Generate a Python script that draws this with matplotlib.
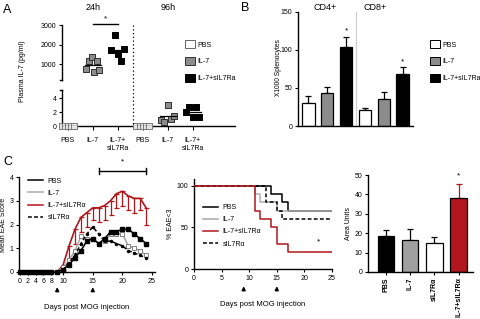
import numpy as np
import matplotlib.pyplot as plt
from matplotlib.patches import Patch
from matplotlib.lines import Line2D

plt.rcParams['font.family'] = ['Liberation Sans', 'DejaVu Sans']
plt.rcParams['axes.linewidth'] = 1.0
plt.rcParams['xtick.major.width'] = 0.8
plt.rcParams['ytick.major.width'] = 0.8
plt.rcParams['xtick.labelsize'] = 5
plt.rcParams['ytick.labelsize'] = 5

W, H = 481, 319
fig = plt.figure(figsize=(W / 100, H / 100), dpi=100)


def box(l, t, r, b):
    # pixel box -> figure fraction
    return [l / W, 1 - b / H, (r - l) / W, (b - t) / H]


# ---------------- data ----------------
# panel A: plasma IL-7 (pg/ml), 24h and 96h
a_labels = ['PBS', 'IL-7', 'IL-7+\nsIL7Ra', 'PBS', 'IL-7', 'IL-7+\nsIL7Ra']
a_pbs_24 = [0, 0, 0, 0, 0]
a_il7_24 = [750, 1160, 1370, 630, 1160, 700]
a_combo_24 = [1720, 2510, 1540, 1190, 1770]
a_pbs_96 = [0, 0, 0, 0, 0]
a_il7_96 = [0.8, 0.65, 3.1, 1.0, 1.4]
a_combo_96 = [2.0, 2.8, 1.3, 2.8, 1.3]
a_groups = [a_pbs_24, a_il7_24, a_combo_24, a_pbs_96, a_il7_96, a_combo_96]

# panel B: splenocytes x1000
b_cells = ['CD4+', 'CD8+']
b_pbs = [30, 21]
b_pbs_err = [10, 3]
b_il7 = [44, 35]
b_il7_err = [7, 10]
b_combo = [104, 68]
b_combo_err = [13, 9]

# panel C left: mean EAE score by day
days = np.arange(0, 25)
zeros10 = [0] * 10
eae_pbs = zeros10 + [0.1, 0.3, 0.6, 0.9, 1.3, 1.4, 1.2, 1.4, 1.7, 1.7, 1.8, 1.8, 1.6, 1.4, 1.2]
eae_il7 = zeros10 + [0.2, 0.5, 0.9, 1.5, 1.4, 1.4, 1.2, 1.3, 1.6, 1.6, 1.6, 1.1, 1.0, 0.9, 0.7]
eae_combo = zeros10 + [0.3, 1.1, 1.8, 2.3, 2.5, 2.7, 2.7, 2.8, 3.0, 3.3, 3.4, 3.2, 3.1, 3.1, 2.7]
eae_combo_err = zeros10 + [0.2, 0.6, 0.6, 0.6, 0.6, 0.5, 0.6, 0.6, 0.6, 0.6, 0.6, 0.6, 0.6, 0.5, 0.7]
eae_sil = zeros10 + [0.1, 0.4, 0.7, 1.2, 1.6, 1.9, 1.6, 1.3, 1.3, 1.2, 1.1, 0.9, 0.8, 0.7, 0.6]

# panel C middle: % EAE<3 (step curves)
km_pbs_t, km_pbs = [0, 14, 16, 17, 25], [100, 90, 80, 70, 70]
km_il7_t, km_il7 = [0, 11, 12, 15, 25], [100, 90, 80, 70, 70]
km_sil_t, km_sil = [0, 13, 15, 16, 25], [100, 80, 70, 60, 60]
km_combo_t, km_combo = [0, 11, 12, 14, 15, 17, 25], [100, 70, 60, 50, 30, 20, 20]

# panel C right: area units
c_groups = ['PBS', 'IL-7', 'sIL7R\u03b1', 'IL-7+sIL7R\u03b1']
c_vals = [18.5, 16.5, 15, 38]
c_err = [3, 5.5, 3, 7.5]

RED = '#b0161c'
GREY = '#8c8c8c'
LIGHT = '#e6e6e6'
a_face = [LIGHT, GREY, 'black'] * 2
a_edge = ['#7a7a7a', '#303030', 'black'] * 2


def style(ax):
    for s in ['top', 'right']:
        ax.spines[s].set_visible(False)
    ax.tick_params(length=2.5, pad=1.5)


# ---------------- panel A ----------------
axu = fig.add_axes(box(62, 25, 235, 80))
axl = fig.add_axes(box(62, 90, 235, 126))
for ax in (axu, axl):
    style(ax)
    ax.set_xlim(-0.24, 6.7)
    ax.patch.set_alpha(0)
axu.spines['bottom'].set_visible(False)
axu.set_xticks([])
axu.set_ylim(200, 3000)
axu.set_yticks([1000, 2000, 3000])
axl.set_ylim(0, 5.2)
axl.set_yticks([0, 2, 4])
axl.set_xticks(range(6))
axl.set_xticklabels(a_labels, fontsize=5, va='top')
axl.tick_params(axis='x', length=3, pad=5)
for ax, yb in ((axu, 0), (axl, 1)):
    ax.plot([-0.012, 0], [yb, yb], transform=ax.transAxes, color='black', lw=1, clip_on=False)

for i, vals in enumerate(a_groups):
    vals = np.array(vals, dtype=float)
    xs = i + np.linspace(-0.26, 0.26, len(vals))
    big = vals > 100
    for ax, m in ((axu, big), (axl, ~big)):
        if m.any():
            ax.scatter(xs[m], vals[m], marker='s', s=16, c=a_face[i], edgecolors=a_edge[i],
                       linewidths=0.7, clip_on=False, zorder=3)
    mean = vals.mean()
    ax = axu if mean > 100 else axl
    ax.plot([i - 0.32, i + 0.32], [mean, mean], color='black', lw=0.9, zorder=4)

axu.plot([1, 2], [3050, 3050], color='black', lw=1, clip_on=False)
axu.text(1.5, 3120, '*', ha='center', va='bottom', fontsize=6)
fig.add_artist(Line2D([133 / W, 133 / W], [1 - 25 / H, 1 - 126 / H], ls=(0, (1, 2)), color='black', lw=0.9))
fig.text(93 / W, 1 - 7 / H, '24h', ha='center', va='center', fontsize=6.5)
fig.text(168 / W, 1 - 7 / H, '96h', ha='center', va='center', fontsize=6.5)
fig.text(3 / W, 1 - 10 / H, 'A', ha='left', va='center', fontsize=9)
fig.text(22 / W, 1 - 71 / H, 'Plasma IL-7 (pg/ml)', rotation=90, ha='center', va='center', fontsize=5)

leg_handles = [Patch(facecolor='white', edgecolor='#666666', lw=0.7),
               Patch(facecolor=GREY, edgecolor='#303030', lw=0.7),
               Patch(facecolor='black', edgecolor='black', lw=0.7)]
leg_labels = ['PBS', 'IL-7', 'IL-7+sIL7Ra']
fig.legend(leg_handles, leg_labels, loc='upper left', bbox_to_anchor=(182 / W, 1 - 37 / H),
           frameon=False, fontsize=5, handlelength=1.4, handleheight=1.4, labelspacing=1.2,
           handletextpad=0.35, borderpad=0)

# ---------------- panel B ----------------
axb = fig.add_axes(box(298, 12, 413, 126))
style(axb)
axb.set_xlim(-0.55, 5.55)
axb.set_ylim(0, 150)
axb.set_yticks([0, 50, 100, 150])
axb.set_xticks([])
bw = 0.66
for k in range(2):
    base = k * 3
    for j, (v, e, fc) in enumerate(((b_pbs[k], b_pbs_err[k], 'white'),
                                   (b_il7[k], b_il7_err[k], GREY),
                                   (b_combo[k], b_combo_err[k], 'black'))):
        axb.bar(base + j, v, width=bw, color=fc, edgecolor='black', lw=0.9, zorder=2)
        axb.errorbar(base + j, v, yerr=[[0], [e]], color='black', capsize=2.5, lw=0.9,
                     capthick=0.9, zorder=1)
    axb.text(base + 2, b_combo[k] + b_combo_err[k] + 3, '*', ha='center', va='bottom', fontsize=6)
axb.axvline(2.5, color='#cccccc', lw=0.8, zorder=0)
fig.text(325 / W, 1 - 7 / H, b_cells[0], ha='center', va='center', fontsize=6.5)
fig.text(375 / W, 1 - 7 / H, b_cells[1], ha='center', va='center', fontsize=6.5)
fig.text(241 / W, 1 - 8 / H, 'B', ha='left', va='center', fontsize=9)
fig.text(278 / W, 1 - 68 / H, 'X1000 Splenocytes', rotation=90, ha='center', va='center', fontsize=4.8)
leg_handles_b = [Patch(facecolor='white', edgecolor='black', lw=0.7),
                 Patch(facecolor=GREY, edgecolor='black', lw=0.7),
                 Patch(facecolor='black', edgecolor='black', lw=0.7)]
fig.legend(leg_handles_b, leg_labels, loc='upper left', bbox_to_anchor=(427 / W, 1 - 37 / H),
           frameon=False, fontsize=5, handlelength=1.4, handleheight=1.4, labelspacing=1.2,
           handletextpad=0.3, borderpad=0)

# ---------------- panel C left ----------------
A_C = 0.66


def fwd(x):
    x = np.asarray(x, dtype=float)
    return np.where(x <= 8, x * A_C, 8 * A_C + x - 8)


def inv(y):
    y = np.asarray(y, dtype=float)
    return np.where(y <= 8 * A_C, y / A_C, y - 8 * A_C + 8)


axc = fig.add_axes(box(19, 177, 155, 272))
style(axc)
axc.set_xscale('function', functions=(fwd, inv))
axc.set_xlim(-0.25, 25.5)
axc.set_ylim(0, 4)
axc.set_yticks([0, 1, 2, 3, 4])
axc.set_xticks([0, 2, 4, 6, 8, 10, 15, 20, 25])
axc.set_xticklabels(['0', '2', '4', '6', '8', '10', '15', '20', '25'])
axc.xaxis.set_minor_locator(plt.NullLocator())
axc.errorbar(days, eae_combo, yerr=[eae_combo_err, np.zeros(len(days))], color=RED, lw=1.2,
             capsize=1.8, elinewidth=0.9, capthick=0.9, zorder=2, clip_on=False)
axc.plot(days, eae_il7, color='#a8a8a8', lw=1.1, marker='s', ms=2.6, mfc='white', mec='#707070',
         mew=0.6, zorder=3, clip_on=False)
axc.plot(days, eae_sil, color='black', lw=1.1, ls=(0, (2.5, 1.5)), marker='o', ms=1.5, zorder=3,
         clip_on=False)
axc.plot(days, eae_pbs, color='black', lw=1.1, marker='s', ms=2.4, zorder=4, clip_on=False)
axc.plot([16, 24], [4.25, 4.25], color='black', lw=1, clip_on=False)
for d in (16, 24):
    axc.plot([d, d], [4.12, 4.38], color='black', lw=1, clip_on=False)
axc.text(20, 4.5, '*', ha='center', va='bottom', fontsize=6)
axc.set_xlabel('Days post MOG injection', fontsize=5.5, labelpad=14)
axc.set_ylabel('Mean EAE Score', fontsize=5, labelpad=2)
tr = axc.get_xaxis_transform()
for d in (9, 15):
    axc.annotate('', xy=(d, -0.13), xytext=(d, -0.23), xycoords=tr, textcoords=tr,
                 arrowprops=dict(arrowstyle='-|>', lw=1.1, color='black', mutation_scale=5))
c_leg_handles = [Line2D([], [], color='black', lw=1.1),
                 Line2D([], [], color='#a8a8a8', lw=1.1),
                 Line2D([], [], color=RED, lw=1.1),
                 Line2D([], [], color='black', lw=1.1, ls=(0, (2.5, 1.5)))]
c_leg_labels = ['PBS', 'IL-7', 'IL-7+sIL7R\u03b1', 'sIL7R\u03b1']
axc.legend(c_leg_handles, c_leg_labels, loc='upper left', bbox_to_anchor=(0.04, 1.03),
           frameon=False, fontsize=5, handlelength=2.2, labelspacing=0.75, handletextpad=0.6,
           borderpad=0)
fig.text(3 / W, 1 - 162 / H, 'C', ha='left', va='center', fontsize=9)

# ---------------- panel C middle ----------------
axk = fig.add_axes(box(194, 179, 332, 269))
style(axk)
axk.set_xlim(0, 25)
axk.set_ylim(0, 108)
axk.set_yticks([0, 50, 100])
axk.set_xticks([0, 5, 10, 15, 20, 25])
axk.step(km_pbs_t, km_pbs, where='post', color='black', lw=1.1, zorder=2)
axk.step(km_il7_t, km_il7, where='post', color='#b0b0b0', lw=1.1, zorder=2)
axk.step(km_sil_t, km_sil, where='post', color='black', lw=1.1, ls=(0, (2.5, 1.5)), zorder=3)
axk.step(km_combo_t, km_combo, where='post', color=RED, lw=1.1, zorder=4)
axk.text(22.5, 28, '*', ha='center', va='bottom', fontsize=6)
axk.set_xlabel('Days post MOG injection', fontsize=5.5, labelpad=14)
axk.set_ylabel('% EAE<3', fontsize=5, labelpad=2)
trk = axk.get_xaxis_transform()
for d in (9, 15):
    axk.annotate('', xy=(d, -0.16), xytext=(d, -0.26), xycoords=trk, textcoords=trk,
                 arrowprops=dict(arrowstyle='-|>', lw=1.1, color='black', mutation_scale=5))
axk.legend(c_leg_handles, c_leg_labels, loc='upper left', bbox_to_anchor=(0.04, 0.76),
           frameon=False, fontsize=5, handlelength=2.2, labelspacing=0.75, handletextpad=0.6,
           borderpad=0)

# ---------------- panel C right ----------------
axr = fig.add_axes(box(368, 175, 473, 272))
style(axr)
axr.set_xlim(-0.75, 3.6)
axr.set_ylim(0, 50)
axr.set_yticks([0, 10, 20, 30, 40, 50])
r_colors = ['black', '#a0a0a0', 'white', RED]
for i, (v, e, c) in enumerate(zip(c_vals, c_err, r_colors)):
    axr.bar(i, v, width=0.68, color=c, edgecolor='black', lw=0.9, zorder=2)
    axr.errorbar(i, v, yerr=[[0], [e]], color='black' if i < 3 else RED, capsize=2.5, lw=0.9,
                 capthick=0.9, zorder=1)
axr.text(3, c_vals[3] + c_err[3] + 2, '*', ha='center', va='bottom', fontsize=6)
axr.set_xticks(range(4))
axr.set_xticklabels(c_groups, rotation=90, fontsize=5, fontweight='bold')
axr.set_ylabel('Area Units', fontsize=5, labelpad=2)

fig.savefig('out.png', dpi=100)
